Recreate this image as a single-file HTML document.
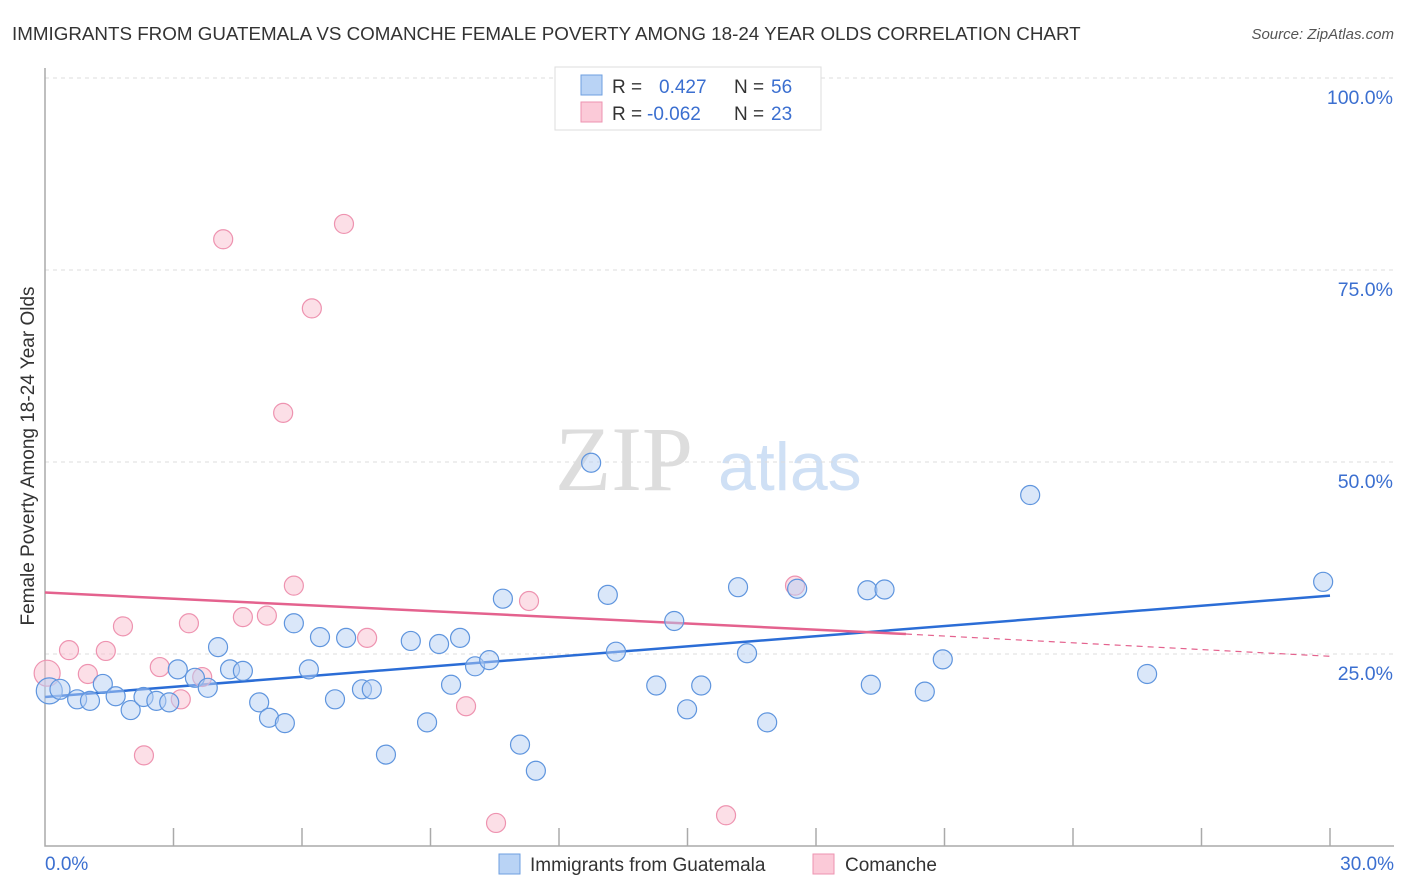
<!DOCTYPE html>
<html><head><meta charset="utf-8"><style>
body{margin:0;background:#fff;font-family:"Liberation Sans",sans-serif;}
svg{display:block}
</style></head><body>
<svg id="chart" width="1406" height="892">
<text x="12" y="40" font-size="18.8" fill="#333">IMMIGRANTS FROM GUATEMALA VS COMANCHE FEMALE POVERTY AMONG 18-24 YEAR OLDS CORRELATION CHART</text>
<text x="1394" y="39" font-size="15" fill="#555" font-style="italic" text-anchor="end">Source: ZipAtlas.com</text>
<text x="34" y="456" font-size="19" fill="#333" text-anchor="middle" transform="rotate(-90 34 456)">Female Poverty Among 18-24 Year Olds</text>
<g><text x="555" y="490" font-size="92" fill="#ddd" font-family="Liberation Serif,serif">ZIP</text><text x="718" y="490" font-size="68" fill="#cfe0f5">atlas</text></g>
<g id="grid"></g><g id="axes"></g><g id="lines"></g><g id="pts"></g>
<g>
<rect x="555" y="67" width="266" height="63" fill="#fff" stroke="#ddd"/>
<rect x="581" y="75" width="21" height="20" fill="#b9d3f5" stroke="#6e9fe0"/>
<rect x="581" y="102" width="21" height="20" fill="#fbcad8" stroke="#ee93b0"/>
<text x="612" y="93" font-size="19" fill="#333">R =</text><text x="659" y="93" font-size="19" fill="#3b6fd0">0.427</text>
<text x="734" y="93" font-size="19" fill="#333">N =</text><text x="771" y="93" font-size="19" fill="#3b6fd0">56</text>
<text x="612" y="120" font-size="19" fill="#333">R =</text><text x="647" y="120" font-size="19" fill="#3b6fd0">-0.062</text>
<text x="734" y="120" font-size="19" fill="#333">N =</text><text x="771" y="120" font-size="19" fill="#3b6fd0">23</text>
</g>
<g>
<rect x="499" y="854" width="21" height="20" fill="#b9d3f5" stroke="#6e9fe0"/>
<text x="530" y="871" font-size="19" fill="#333">Immigrants from Guatemala</text>
<rect x="813" y="854" width="21" height="20" fill="#fbcad8" stroke="#ee93b0"/>
<text x="845" y="871" font-size="19" fill="#333">Comanche</text>
</g>
</svg>
<script>
const blueX=[0.1,0.35,0.75,1.05,1.35,1.65,2.0,2.3,2.6,2.9,3.1,3.5,3.8,4.04,4.32,4.62,5.0,5.23,5.6,5.81,6.16,6.42,6.77,7.03,7.4,7.63,7.96,8.54,8.92,9.2,9.48,9.69,10.04,10.37,10.69,11.09,11.46,12.75,13.14,13.33,14.27,14.69,14.99,15.32,16.18,16.39,16.86,17.56,19.2,19.28,19.6,20.54,20.96,23.0,25.73,29.84];
const blueY=[20.2,20.4,19.1,18.9,21.1,19.5,17.7,19.4,18.9,18.7,23.0,21.9,20.6,25.9,23.0,22.8,18.7,16.7,16.0,29.0,23.0,27.2,19.1,27.1,20.4,20.4,11.9,26.7,16.1,26.3,21.0,27.1,23.4,24.2,32.2,13.2,9.8,49.9,32.7,25.3,20.9,29.3,17.8,20.9,33.7,25.1,16.1,33.5,33.3,21.0,33.4,20.1,24.3,45.7,22.4,34.4];
const pinkX=[0.05,0.56,1.0,1.42,1.82,2.31,2.68,3.17,3.36,3.67,4.16,4.62,5.18,5.56,5.81,6.23,6.98,7.52,9.83,10.53,11.3,15.9,17.51];
const pinkY=[22.5,25.5,22.4,25.4,28.6,11.8,23.3,19.1,29.0,22.0,79.0,29.8,30.0,56.4,33.9,70.0,81.0,27.1,18.2,3.0,31.9,4.0,33.9];
const yTicks=[25,50,75,100];
const yTickLabels=["25.0%","50.0%","75.0%","100.0%"];
const xTicks=[0,3,6,9,12,15,18,21,24,27,30];
const blueTrend=[[0,19.4],[30,32.6]];
const pinkTrend=[[0,33.0],[20.1,27.6],[30,24.7]];
const X=v=>45+v/30*1285, Y=v=>846-v/25*192;
const NS="http://www.w3.org/2000/svg";
function mk(p,t,a){const e=document.createElementNS(NS,t);for(const k in a)e.setAttribute(k,a[k]);document.getElementById(p).appendChild(e);return e;}
yTicks.forEach((v,i)=>{
 const l=mk('grid','line',{x1:45,x2:1394,y1:Y(v),y2:Y(v),stroke:'#ddd','stroke-dasharray':'4,4'});
 
 
 const t=mk('grid','text',{x:1393,y:Y(v)+26,'font-size':19.5,fill:'#3b6fd0','text-anchor':'end'});
 t.textContent=yTickLabels[i];
 
 
});
const ax=mk('axes','path',{d:'M45,68V846H1394',fill:'none',stroke:'#aaa','stroke-width':1.5});


xTicks.forEach(v=>{if(v===0)return;
 const l=mk('axes','line',{x1:X(v),x2:X(v),y1:828,y2:846,stroke:'#aaa','stroke-width':1.5});
 
 
});
[["0.0%",45,'start'],["30.0%",1394,'end']].forEach(a=>{
 const t=mk('axes','text',{x:a[1],y:870,'font-size':19,fill:'#3b6fd0','text-anchor':a[2]});t.textContent=a[0];
 
 
});
function dots(xs,ys,fill,stroke,name){xs.forEach((x,i)=>{
 const r=(x<0.5)?(i===0?13:10):9.5;
 const c=mk('pts','circle',{cx:X(x),cy:Y(ys[i]),r:r,fill:fill,'fill-opacity':0.5,stroke:stroke,'stroke-width':1.2});
 
 
});}
dots(pinkX,pinkY,'#f9bfd0','#ee93b0','comanche-point');
dots(blueX,blueY,'#b5d0f3','#5f95de','guatemala-point');
const bl=mk('lines','line',{x1:X(blueTrend[0][0]),y1:Y(blueTrend[0][1]),x2:X(blueTrend[1][0]),y2:Y(blueTrend[1][1]),stroke:'#2b6dd6','stroke-width':2.5});


const pl=mk('lines','line',{x1:X(pinkTrend[0][0]),y1:Y(pinkTrend[0][1]),x2:X(pinkTrend[1][0]),y2:Y(pinkTrend[1][1]),stroke:'#e4628e','stroke-width':2.5});


const pd=mk('lines','line',{x1:X(pinkTrend[1][0]),y1:Y(pinkTrend[1][1]),x2:X(pinkTrend[2][0]),y2:Y(pinkTrend[2][1]),stroke:'#e4628e','stroke-width':1.2,'stroke-dasharray':'6,5'});


</script>
</body></html>
